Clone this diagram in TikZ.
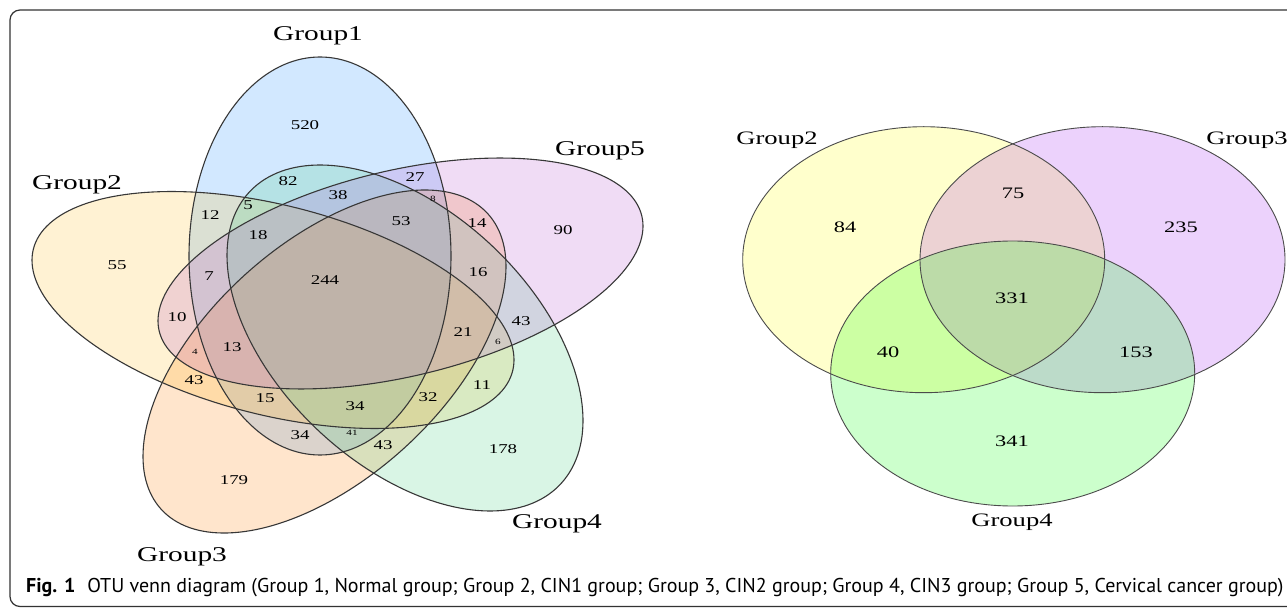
\documentclass[tikz,border=0pt]{standalone}
\usepackage{fontspec}
\usepackage{graphicx}
\setmainfont{Liberation Serif}
\newfontfamily\capfont{PT Sans}
\definecolor{gA}{RGB}{30,144,255}
\definecolor{gB}{RGB}{255,193,37}
\definecolor{gC}{RGB}{255,127,0}
\definecolor{gD}{RGB}{67,205,128}
\definecolor{gE}{RGB}{180,82,205}
\definecolor{rA}{RGB}{255,255,0}
\definecolor{rB}{RGB}{160,32,240}
\definecolor{rC}{RGB}{0,255,0}
\definecolor{lineC}{RGB}{55,55,55}
\newcommand\hstr[1]{\scalebox{1.4}[1]{#1}}
\tikzset{
  num/.style={font=\fontsize{13.5}{14}\selectfont, inner sep=0pt},
  sml/.style={font=\fontsize{8}{9}\selectfont, inner sep=0pt},
  glab/.style={font=\fontsize{21}{22}\selectfont, inner sep=0pt},
  rnum/.style={font=\fontsize{16}{17}\selectfont, inner sep=0pt},
  rlab/.style={font=\fontsize{19}{20}\selectfont, inner sep=0pt},
  vfill/.style={fill=#1, fill opacity=0.2, draw=none},
  outl/.style={draw=lineC, line width=1.1pt},
  routl/.style={draw=lineC!90, line width=0.9pt},
}
\begin{document}
\begin{tikzpicture}[x=1pt,y=-1pt]
\useasboundingbox (0,0) rectangle (1287,609);
\clip (0,0) rectangle (1287,609);
\fill[white] (0,0) rectangle (1287,609);
% frame
\draw[line width=1.2pt, black!80, rounded corners=10pt] (10,10) rectangle (1300,606.5);

% ---- five-set Venn: fills
\path[vfill=gA] plot[domain=0:360,samples=181,variable=\t] ({320+131*cos(\t)},{256+199*sin(\t)}) -- cycle;
\path[vfill=gB] plot[domain=0:360,samples=181,variable=\t] ({273+241*cos(\t)},{310+49.8*cos(\t)+107.5*sin(\t)}) -- cycle;
\path[vfill=gC] plot[domain=0:360,samples=181,variable=\t] ({324.5+181.5*cos(\t)},{361.5-95*cos(\t)+142.8*sin(\t)}) -- cycle;
\path[vfill=gD] plot[domain=0:360,samples=181,variable=\t] ({405+178*cos(\t)},{338+82.6*cos(\t)+152*sin(\t)}) -- cycle;
\path[vfill=gE] plot[domain=0:360,samples=181,variable=\t] ({400.5+242.5*cos(\t)},{273.5-47.4*cos(\t)+105.3*sin(\t)}) -- cycle;
% outlines
\path[outl] plot[domain=0:360,samples=181,variable=\t] ({320+131*cos(\t)},{256+199*sin(\t)}) -- cycle;
\path[outl] plot[domain=0:360,samples=181,variable=\t] ({273+241*cos(\t)},{310+49.8*cos(\t)+107.5*sin(\t)}) -- cycle;
\path[outl] plot[domain=0:360,samples=181,variable=\t] ({324.5+181.5*cos(\t)},{361.5-95*cos(\t)+142.8*sin(\t)}) -- cycle;
\path[outl] plot[domain=0:360,samples=181,variable=\t] ({405+178*cos(\t)},{338+82.6*cos(\t)+152*sin(\t)}) -- cycle;
\path[outl] plot[domain=0:360,samples=181,variable=\t] ({400.5+242.5*cos(\t)},{273.5-47.4*cos(\t)+105.3*sin(\t)}) -- cycle;

% group labels
\node[glab] (lg1) at (318,36) {\hstr{Group1}};
\node[glab] (lg2) at (77,185) {\hstr{Group2}};
\node[glab] (lg5) at (600,151) {\hstr{Group5}};
\node[glab] (lg3) at (182,557) {\hstr{Group3}};
\node[glab] (lg4) at (557,524) {\hstr{Group4}};

% region counts
\node[num] (n520) at (305,125) {\hstr{520}};
\node[num] (n82) at (288,181) {\hstr{82}};
\node[num] (n38) at (338,195) {\hstr{38}};
\node[num] (n27) at (415,177) {\hstr{27}};
\node[sml] (n8) at (433,199) {\hstr{8}};
\node[num] (n14) at (477,223) {\hstr{14}};
\node[num] (n90) at (563,230) {\hstr{90}};
\node[num] (n12) at (210,215) {\hstr{12}};
\node[num] (n5) at (248,205) {\hstr{5}};
\node[num] (n18) at (258,235) {\hstr{18}};
\node[num] (n53) at (401,221) {\hstr{53}};
\node[num] (n55) at (117,265) {\hstr{55}};
\node[num] (n7) at (209,276) {\hstr{7}};
\node[num] (n16) at (478,272) {\hstr{16}};
\node[num] (n244) at (325,280) {\hstr{244}};
\node[num] (n10) at (177,317) {\hstr{10}};
\node[num] (n43a) at (521,321) {\hstr{43}};
\node[num] (n21) at (463,332) {\hstr{21}};
\node[sml] (n6) at (498,342) {\hstr{6}};
\node[sml] (n4) at (195,352) {\hstr{4}};
\node[num] (n13) at (232,347) {\hstr{13}};
\node[num] (n43b) at (194,380) {\hstr{43}};
\node[num] (n11) at (482,385) {\hstr{11}};
\node[num] (n15) at (265,398) {\hstr{15}};
\node[num] (n34a) at (355,406) {\hstr{34}};
\node[num] (n32) at (428,397) {\hstr{32}};
\node[num] (n34b) at (300,435) {\hstr{34}};
\node[sml] (n41) at (352,433) {\hstr{41}};
\node[num] (n43c) at (383,445) {\hstr{43}};
\node[num] (n178) at (503,449) {\hstr{178}};
\node[num] (n179) at (234,480) {\hstr{179}};

% ---- three-set Venn
\path[vfill=rA] (923.7,259.7) ellipse [x radius=181pt, y radius=133pt];
\path[vfill=rB] (1102.5,259.7) ellipse [x radius=182.5pt, y radius=133pt];
\path[vfill=rC] (1012.7,373.5) ellipse [x radius=182pt, y radius=132.5pt];
\path[routl] (923.7,259.7) ellipse [x radius=181pt, y radius=133pt];
\path[routl] (1102.5,259.7) ellipse [x radius=182.5pt, y radius=133pt];
\path[routl] (1012.7,373.5) ellipse [x radius=182pt, y radius=132.5pt];

\node[rlab] (rg2) at (777,140) {\hstr{Group2}};
\node[rlab] (rg3) at (1247,140) {\hstr{Group3}};
\node[rlab] (rg4) at (1012,522) {\hstr{Group4}};
\node[rnum] (r84) at (845,227) {\hstr{84}};
\node[rnum] (r75) at (1013,193) {\hstr{75}};
\node[rnum] (r235) at (1181,227) {\hstr{235}};
\node[rnum] (r331) at (1012,298) {\hstr{331}};
\node[rnum] (r40) at (888,352) {\hstr{40}};
\node[rnum] (r153) at (1136,352) {\hstr{153}};
\node[rnum] (r341) at (1012,441) {\hstr{341}};

% caption
\node[anchor=west, inner sep=0pt] (cap) at (26,588) {\resizebox{1257pt}{!}{\capfont\fontsize{10}{12}\selectfont\textbf{Fig. 1}\hspace{0.6em}OTU venn diagram (Group 1, Normal group; Group 2, CIN1 group; Group 3, CIN2 group; Group 4, CIN3 group; Group 5, Cervical cancer group)}};
\end{tikzpicture}
\end{document}
